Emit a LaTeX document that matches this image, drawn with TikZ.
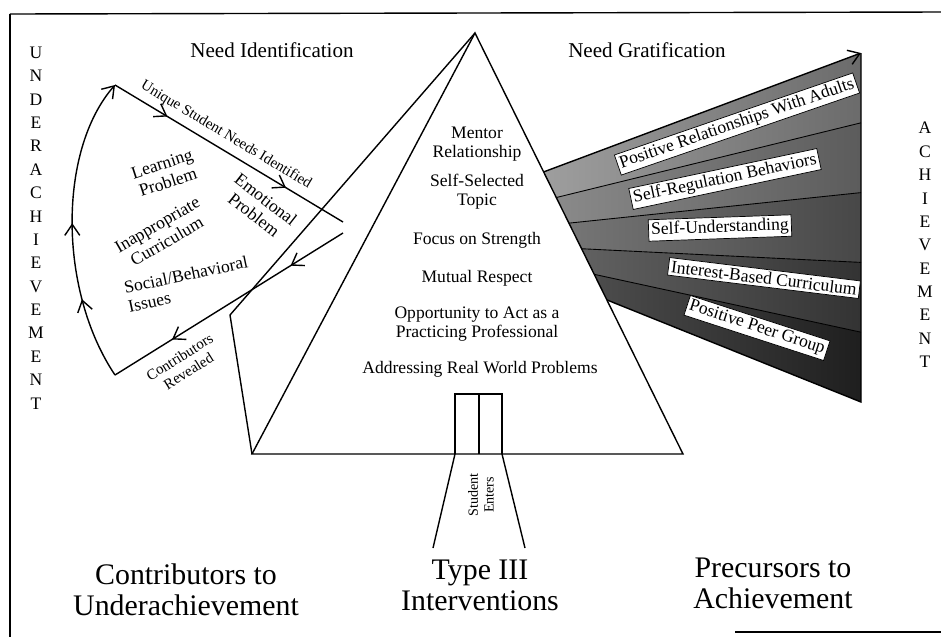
\documentclass[tikz,border=0pt]{standalone}
\usepackage{fontspec}
\setmainfont{Liberation Serif}
\usetikzlibrary{arrows.meta,decorations.markings,calc}

\begin{document}
\begin{tikzpicture}[x=0.02cm, y=-0.02cm, line width=0.8pt,
  >={Straight Barb[length=2.2mm,width=3mm]},
  txt/.style={font=\fontsize{10}{11}\selectfont, align=center},
  tiny/.style={font=\fontsize{8.5}{9.5}\selectfont, align=center},
  head/.style={font=\fontsize{12}{14}\selectfont},
  big/.style={font=\fontsize{17}{17.5}\selectfont, align=center},
  vword/.style={font=\fontsize{10}{13.3}\selectfont, align=center},
  gbox/.style={fill=white, draw=black, line width=0.4pt, inner sep=1.5pt,
    font=\fontsize{10}{11}\selectfont},
  twoarrows/.style={postaction={decorate}, decoration={markings,
    mark=at position 0.23 with {\arrow{>}},
    mark=at position 0.75 with {\arrow{>}}}},
  arcarrows/.style={postaction={decorate}, decoration={markings,
    mark=at position 0.27 with {\arrow{>}},
    mark=at position 0.52 with {\arrow{>}}}}]

\useasboundingbox (0,0) rectangle (941,637);

% page frame
\draw (10,14) -- (10,637);
\draw (10,14) -- (941,12);
\draw (735,632) -- (941,632);

% side words
\node[vword] (under) at (36,228) {U\\N\\D\\E\\R\\A\\C\\H\\I\\E\\V\\E\\M\\E\\N\\T};
\node[vword] (achieve) at (925,245) {A\\C\\H\\I\\E\\V\\E\\M\\E\\N\\T};

\node[head] (needid) at (272,50) {Need Identification};
\node[head] (needgr) at (647,50) {Need Gratification};

% pyramid
\coordinate (apex) at (475,33);
\coordinate (wing) at (230,315);
\coordinate (bl) at (252,454);
\coordinate (br) at (683,454);

% need gratification fan
\foreach \i in {0,...,5} {
  \pgfmathsetmacro\t{0.33+0.0608*\i}
  \coordinate (gl\i) at ($(apex)!\t!(br)$);
  \coordinate (gr\i) at (861,{53+69.8*\i});
}
\foreach \i/\j/\a/\b in {0/1/38/58, 1/2/46/64, 2/3/54/72, 3/4/62/80, 4/5/70/88}
  \shade[left color=black!\a, right color=black!\b] (gl\i) -- (gr\i) -- (gr\j) -- (gl\j) -- cycle;
\foreach \i in {1,...,4}
  \draw[line width=0.5pt] (gl\i) -- (gr\i);
\draw[->] (gl0) -- (gr0);
\draw (gr0) -- (gr5) -- (gl5);

\node[gbox, rotate=19] (adults) at (737,124) {Positive Relationships With Adults};
\node[gbox, rotate=12] (selfreg) at (725,179) {Self-Regulation Behaviors};
\node[gbox, rotate=2] (selfund) at (720,228) {Self-Understanding};
\node[gbox, rotate=-7] (interest) at (764,278) {Interest-Based Curriculum};
\node[gbox, rotate=-18] (peer) at (757,328) {Positive Peer Group};

\draw (apex) -- (wing) -- (bl);
\draw (apex) -- (bl) -- (br) -- cycle;

% student entrance
\coordinate (d1) at (455,394);
\coordinate (d2) at (479,394);
\coordinate (d3) at (502,394);
\coordinate (d4) at (455,454);
\coordinate (d5) at (479,454);
\coordinate (d6) at (502,454);
\coordinate (w1) at (433,548);
\coordinate (w2) at (525,548);
\draw (d4) -- (d1) -- (d3) -- (d6);
\draw (d2) -- (d5);
\draw (d4) -- (w1);
\draw (d6) -- (w2);
\node[tiny, font=\fontsize{8}{9}\selectfont, rotate=90] (enters) at (481,495) {Student\\Enters};

\node[txt] (mentor) at (477,144) {Mentor\\Relationship};
\node[txt] (topic) at (477,192) {Self-Selected\\Topic};
\node[txt] (strength) at (477,240) {Focus on Strength};
\node[txt] (respect) at (477,278) {Mutual Respect};
\node[txt] (practice) at (477,324) {Opportunity to Act as a\\Practicing Professional};
\node[txt] (realworld) at (480,369) {Addressing Real World Problems};

% need identification cycle
\coordinate (cb) at (115,375);
\coordinate (ct) at (115,85);
\coordinate (cr) at (343,222);
\coordinate (cr2) at (343,233);
\draw[arcarrows, ->] (cb) .. controls (58,290) and (58,150) .. (ct);
\draw[twoarrows] (ct) -- (cr);
\draw[twoarrows] (cr2) -- (cb);

\node[tiny, rotate=-31] (unique) at (226,135) {Unique Student Needs Identified};
\node[tiny, rotate=32] (revealed) at (184,364) {Contributors\\Revealed};

\node[txt, rotate=18] (learning) at (165,173) {Learning\\Problem};
\node[txt, rotate=-38] (emotional) at (260,207) {Emotional\\Problem};
\node[txt, rotate=30] (curriculum) at (162,233) {Inappropriate\\Curriculum};
\node[txt, align=left, rotate=12] (social) at (188,284) {Social/Behavioral\\Issues};

% captions
\node[big] (contrib) at (186,590) {Contributors to\\Underachievement};
\node[big] (typeiii) at (480,585) {Type III\\Interventions};
\node[big] (precursors) at (773,583) {Precursors to\\Achievement};

\end{tikzpicture}
\end{document}
